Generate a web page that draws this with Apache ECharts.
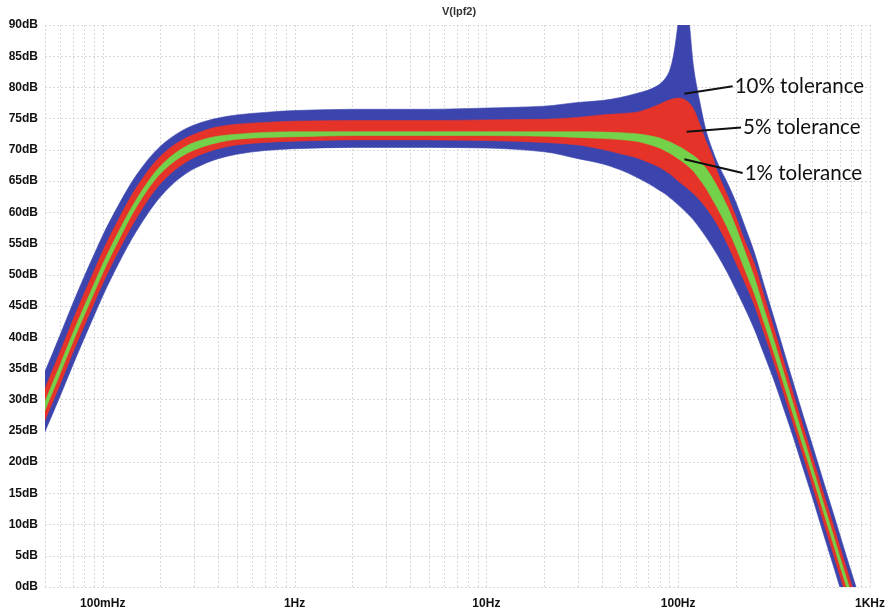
<!DOCTYPE html>
<html><head><meta charset="utf-8">
<script src="https://cdn.jsdelivr.net/npm/echarts@6/dist/echarts.min.js"></script>
<style>html,body{margin:0;padding:0;background:#fff}#c{width:893px;height:613px}</style>
</head><body><div id="c"></div>
<script>
// ---- data (frequency in Hz, magnitude in dB) ----
const freqHz = [0.05,0.06,0.07,0.08,0.09,0.1,0.12,0.15,0.2,0.25,0.3,0.4,0.5,0.7,1,2,5,10,20,30,
  40,50,60,70,80,85,90,95,100,105,110,115,120,130,140,150,160,180,200,220,250,280,320,360,400,450,500,580,650,730,830,1000];

const blueUpper = [34.5,40.4,45.5,49.7,53.2,56.3,61.0,66.0,70.6,72.8,74.0,75.1,75.6,76.0,76.3,76.5,76.5,76.7,77.0,77.6,
  77.9,78.4,79.0,79.6,80.5,81.3,82.6,85.5,90.5,97,96,89.5,83.5,77.5,73.0,70.2,68.0,64.8,61.6,58.2,53.5,48.4,42.5,37.2,32.5,27.3,22.8,16.3,11.4,6.3,0.8,-6.9];
const blueLower = [24.9,30.6,35.6,39.8,43.4,46.6,51.6,57.0,62.5,65.4,67.0,68.6,69.3,69.9,70.2,70.4,70.4,70.3,69.7,68.6,
  67.8,66.8,65.7,64.6,63.5,63.0,62.4,61.8,61.2,60.6,60.0,59.4,58.8,57.4,56.0,54.6,53.2,50.4,47.6,45.0,41.2,37.3,32.6,28.0,23.8,18.8,14.4,7.9,3.0,-2.1,-7.6,-15.3];

const redUpper = [31.8,37.7,42.8,47.0,50.6,53.8,58.7,64.0,69.0,71.3,72.5,73.7,74.1,74.4,74.6,74.7,74.7,74.8,74.9,75.2,
  75.6,75.8,76.0,76.6,77.3,77.7,78.0,78.2,78.3,78.2,77.9,77.4,76.6,74.0,71.3,69.2,66.5,62.8,59.3,55.8,51.7,46.7,40.8,35.5,30.7,25.5,20.9,14.4,9.5,4.4,-1.1,-8.8];
const redLower = [26.7,32.5,37.6,41.8,45.4,48.6,53.6,59.1,64.6,67.3,68.8,70.2,70.8,71.2,71.4,71.6,71.6,71.5,71.2,70.8,
  70.1,69.4,68.8,68.0,67.2,66.7,66.2,65.6,65.0,64.5,64.0,63.5,63.0,61.9,60.7,59.4,58.0,55.0,51.9,49.1,45.1,40.7,35.4,30.4,25.9,20.8,16.3,9.8,4.9,-0.2,-5.7,-13.4];

const greenUpper = [29.7,35.6,40.7,44.9,48.5,51.7,56.7,62.1,67.4,69.9,71.2,72.2,72.5,72.8,72.9,72.9,72.9,72.9,72.9,72.9,
  72.85,72.75,72.6,72.3,71.9,71.6,71.3,70.95,70.6,70.25,69.85,69.45,69.1,68.2,67.0,65.6,64.1,61.0,57.6,54.2,49.5,44.6,38.9,33.7,29.05,23.9,19.35,12.8,7.9,2.8,-2.7,-10.4];
const greenLower = [28.3,34.2,39.3,43.5,47.1,50.3,55.3,60.9,66.2,68.7,70.0,71.2,71.7,72.0,72.1,72.3,72.3,72.3,72.2,72.0,
  71.85,71.65,71.4,70.9,70.3,69.9,69.5,69.05,68.6,68.15,67.65,67.15,66.6,65.2,63.8,62.2,60.7,57.6,54.4,51.2,46.9,42.4,36.9,31.9,27.35,22.3,17.85,11.4,6.5,1.4,-4.1,-11.8];

// axis ticks
const xTickValues = [0.1, 1, 10, 100, 1000];
const xTickLabels = ['100mHz', '1Hz', '10Hz', '100Hz', '1KHz'];
const yMin = 0, yMax = 90, yStep = 5;
const xMin = 0.05, xMax = 1000;
const gridDecades = [0.01, 0.1, 1, 10, 100, 1000];
const gridMultipliers = [1,2,3,4,5,6,7,8,9];

// annotations
const annotTexts = ['10% tolerance', '5% tolerance', '1% tolerance'];
const annotFrom = [[107.7, 79.0], [110.7, 72.9], [107.7, 68.5]];
const annotTo   = [[192.3, 80.2], [212.6, 73.6], [216.8, 66.3]];

const titleText = 'V(lpf2)';

// ---- build chart ----
const gridFreqs = [];
gridDecades.forEach(d => gridMultipliers.forEach(m => {
  const f = +(d * m).toPrecision(6);
  if (f >= xMin && f <= xMax) gridFreqs.push(f);
}));

const colors = { blue: '#3b45ad', red: '#e5332a', green: '#74d24a' };

// monotone cubic (Fritsch-Carlson) segments through pixel points sorted by x
function monoSegments(p) {
  const n = p.length, d = [], m = [];
  for (let i = 0; i < n - 1; i++) d.push((p[i + 1][1] - p[i][1]) / (p[i + 1][0] - p[i][0]));
  m[0] = d[0]; m[n - 1] = d[n - 2];
  for (let i = 1; i < n - 1; i++) {
    if (d[i - 1] * d[i] <= 0) m[i] = 0;
    else {
      const h0 = p[i][0] - p[i - 1][0], h1 = p[i + 1][0] - p[i][0];
      const w1 = 2 * h1 + h0, w2 = h1 + 2 * h0;
      m[i] = (w1 + w2) / (w1 / d[i - 1] + w2 / d[i]);
    }
  }
  const segs = [];
  for (let i = 0; i < n - 1; i++) {
    const h = p[i + 1][0] - p[i][0];
    segs.push([p[i], [p[i][0] + h / 3, p[i][1] + m[i] * h / 3], [p[i + 1][0] - h / 3, p[i + 1][1] - m[i + 1] * h / 3], p[i + 1]]);
  }
  return segs;
}
const fmt = v => v.toFixed(2);

function bandSeries(name, upper, lower, color, z) {
  const rows = freqHz.map((f, i) => [f, lower[i], upper[i]]);
  return {
    type: 'custom', name: name, z: z, silent: true, clip: true,
    data: rows,
    encode: { x: 0, y: [1, 2] },
    renderItem: function (params, api) {
      if (params.dataIndexInside !== 0) return null;
      const n = rows.length;
      const up = [], lo = [];
      for (let i = 0; i < n; i++) {
        const f = api.value(0, i);
        up.push(api.coord([f, api.value(2, i)]));
        lo.push(api.coord([f, api.value(1, i)]));
      }
      const su = monoSegments(up), sl = monoSegments(lo);
      let d = 'M' + fmt(up[0][0]) + ' ' + fmt(up[0][1]);
      su.forEach(s => { d += ' C' + fmt(s[1][0]) + ' ' + fmt(s[1][1]) + ' ' + fmt(s[2][0]) + ' ' + fmt(s[2][1]) + ' ' + fmt(s[3][0]) + ' ' + fmt(s[3][1]); });
      d += ' L' + fmt(lo[n - 1][0]) + ' ' + fmt(lo[n - 1][1]);
      for (let k = sl.length - 1; k >= 0; k--) {
        const s = sl[k];
        d += ' C' + fmt(s[2][0]) + ' ' + fmt(s[2][1]) + ' ' + fmt(s[1][0]) + ' ' + fmt(s[1][1]) + ' ' + fmt(s[0][0]) + ' ' + fmt(s[0][1]);
      }
      d += ' Z';
      const cs = params.coordSys;
      return {
        type: 'path',
        shape: { pathData: d },
        style: { fill: color, stroke: color, lineWidth: 0.6 },
        clipPath: { type: 'rect', shape: { x: cs.x, y: cs.y, width: cs.width, height: cs.height } }
      };
    }
  };
}

const gridSeries = {
  type: 'custom', name: 'vgrid', z: 1, silent: true,
  data: gridFreqs.map(f => [f]),
  encode: { x: 0 },
  renderItem: function (params, api) {
    const f = api.value(0);
    const p1 = api.coord([f, yMin]);
    const p2 = api.coord([f, yMax]);
    return {
      type: 'line',
      shape: { x1: Math.round(p1[0]) + 0.5, y1: p1[1], x2: Math.round(p2[0]) + 0.5, y2: p2[1] },
      style: { stroke: '#d9d9d9', lineWidth: 1, lineDash: [2, 2] }
    };
  }
};

const annotSeries = annotTexts.map((t, i) => ({
  type: 'line', name: 'annot' + i, z: 10, silent: true,
  data: [annotFrom[i], annotTo[i]],
  symbol: 'none',
  lineStyle: { color: '#111', width: 2 },
  endLabel: {
    show: true, formatter: t, distance: 2,
    fontFamily: 'Lato', fontSize: 20.5, color: '#111'
  }
}));

const option = {
  animation: false,
  backgroundColor: '#fff',
  grid: { left: 45, right: 23, top: 25, bottom: 26, containLabel: false },
  graphic: [{
    type: 'text', x: 459, y: 6, z: 100,
    style: { text: titleText, textAlign: 'center', fontFamily: 'Liberation Sans', fontSize: 11, fontWeight: 'bold', fill: '#333' }
  }],
  xAxis: {
    type: 'log', logBase: 10, min: xMin, max: xMax,
    axisLine: { show: false }, axisTick: { show: false },
    splitLine: { show: false },
    axisLabel: {
      show: true, margin: 11, showMinLabel: true, showMaxLabel: true,
      fontFamily: 'Liberation Sans', fontWeight: 'bold', fontSize: 12, color: '#111',
      formatter: function (v) {
        for (let i = 0; i < xTickValues.length; i++) {
          if (Math.abs(Math.log10(v) - Math.log10(xTickValues[i])) < 1e-6) return xTickLabels[i];
        }
        return '';
      }
    }
  },
  yAxis: {
    type: 'value', min: yMin, max: yMax, interval: yStep,
    axisLine: { show: false }, axisTick: { show: false },
    splitLine: { show: true, lineStyle: { color: '#d9d9d9', width: 1, type: [2, 2] } },
    axisLabel: {
      margin: 7, fontFamily: 'Liberation Sans', fontWeight: 'bold', fontSize: 12, color: '#111',
      formatter: v => v + 'dB'
    }
  },
  series: [
    gridSeries,
    bandSeries('10%', blueUpper, blueLower, colors.blue, 3),
    bandSeries('5%', redUpper, redLower, colors.red, 4),
    bandSeries('1%', greenUpper, greenLower, colors.green, 5)
  ].concat(annotSeries)
};

const chart = echarts.init(document.getElementById('c'), null, { renderer: 'canvas' });
chart.setOption(option);
</script>
</body></html>
